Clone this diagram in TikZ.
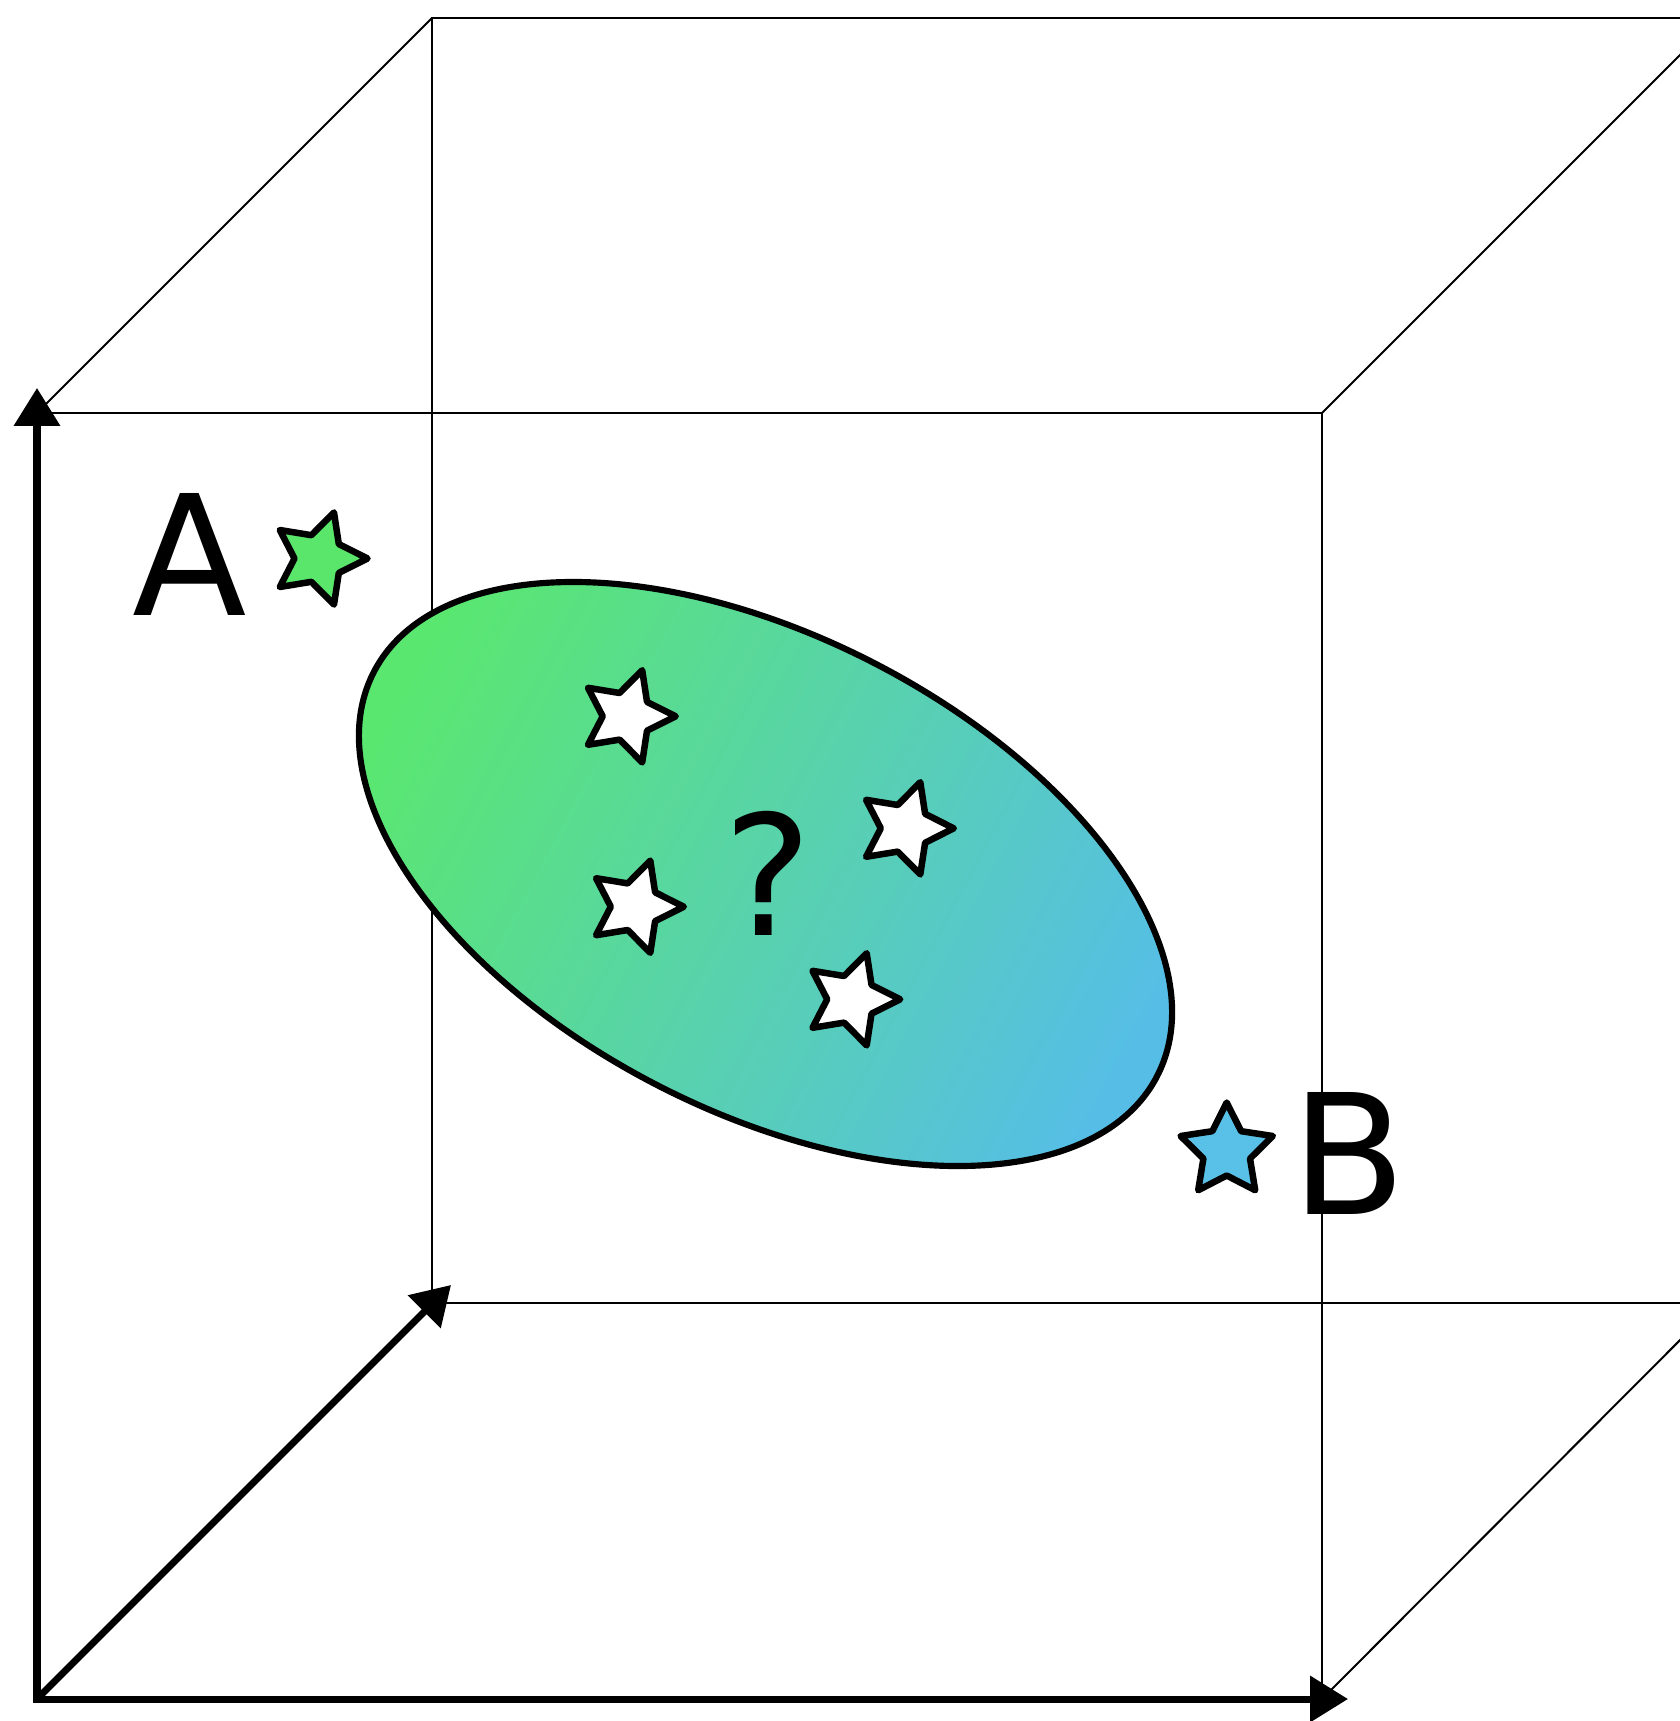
\documentclass[tikz,border=0pt]{standalone}
\usepackage{fontspec}
\setmainfont{DejaVu Sans}
\usetikzlibrary{arrows.meta}
\definecolor{stargreen}{RGB}{89,230,106}
\definecolor{starblue}{RGB}{89,193,231}
\definecolor{shadegreen}{RGB}{90,231,112}
\definecolor{shadeblue}{RGB}{86,190,230}
% #1 name, #2 centre, #3 angle of first tip, #4 fill colour
\newcommand{\mystar}[4]{%
  \coordinate (#1) at #2;
  \draw[starline, fill=#4, shift={#2}]
    (#3:48.5) -- (#3+36:24.5) -- (#3+72:48.5) -- (#3+108:24.5) --
    (#3+144:48.5) -- (#3+180:24.5) -- (#3+216:48.5) -- (#3+252:24.5) --
    (#3+288:48.5) -- (#3+324:24.5) -- cycle;}
\begin{document}
\begin{tikzpicture}[x=0.01cm,y=-0.01cm,
  >={Triangle[length=10.8pt,width=12.8pt]},
  thinedge/.style={line width=0.57pt, draw=black},
  axisline/.style={line width=2pt, draw=black, line join=miter},
  blob/.style={draw=black, line width=1.75pt, left color=shadegreen, right color=shadeblue, shading angle=62},
  starline/.style={draw=black, line width=1.85pt, line join=round},
  lbl/.style={font=\fontsize{47.6}{57}\selectfont, inner sep=0pt, anchor=base}
]
\useasboundingbox (0,0) rectangle (1680,1721);
\clip (0,0) rectangle (1680,1721);
% cube corners
\coordinate (Ftl) at (37,413);
\coordinate (Ftr) at (1322,413);
\coordinate (Fbr) at (1322,1699);
\coordinate (O) at (37,1699);
\coordinate (Btl) at (432,18);
\coordinate (Btr) at (1717,18);
\coordinate (Bbl) at (432,1303);
\coordinate (Bbr) at (1717,1303);
\coordinate (ytip) at (37,388);
\coordinate (xtip) at (1348,1699);
\coordinate (ztip) at (451,1285);
% back face
\draw[thinedge] (Btr) -- (Btl) -- (Bbl) -- (Bbr);
% front face thin edges
\draw[thinedge] (Ftl) -- (Ftr) -- (Fbr);
% depth edges
\draw[thinedge] (Ftl) -- (Btl);
\draw[thinedge] (Ftr) -- (Btr);
\draw[thinedge] (Fbr) -- (Bbr);
% axes
\draw[axisline,<->] (ytip) -- (O) -- (xtip);
\draw[axisline,->] (O) -- (ztip);
% ellipse
\begin{scope}[shift={(765.5,874)}, rotate=-27.28]
  \shade[blob] (0,0) ellipse [x radius=440.7, y radius=237.3];
\end{scope}
% stars
\mystar{starA}{(319,558.5)}{0}{stargreen}
\mystar{starB}{(1226.7,1151)}{-90}{starblue}
\mystar{w1}{(627.2,716.3)}{0}{white}
\mystar{w2}{(905.3,828.3)}{0}{white}
\mystar{w3}{(635.3,906.7)}{0}{white}
\mystar{w4}{(851.7,999.3)}{0}{white}
% labels
\node[lbl] (lblA) at (190,615) {A};
\node[lbl] (lblB) at (1349,1214) {B};
\node[lbl] (lblQ) at (768,935) {?};
\end{tikzpicture}
\end{document}
